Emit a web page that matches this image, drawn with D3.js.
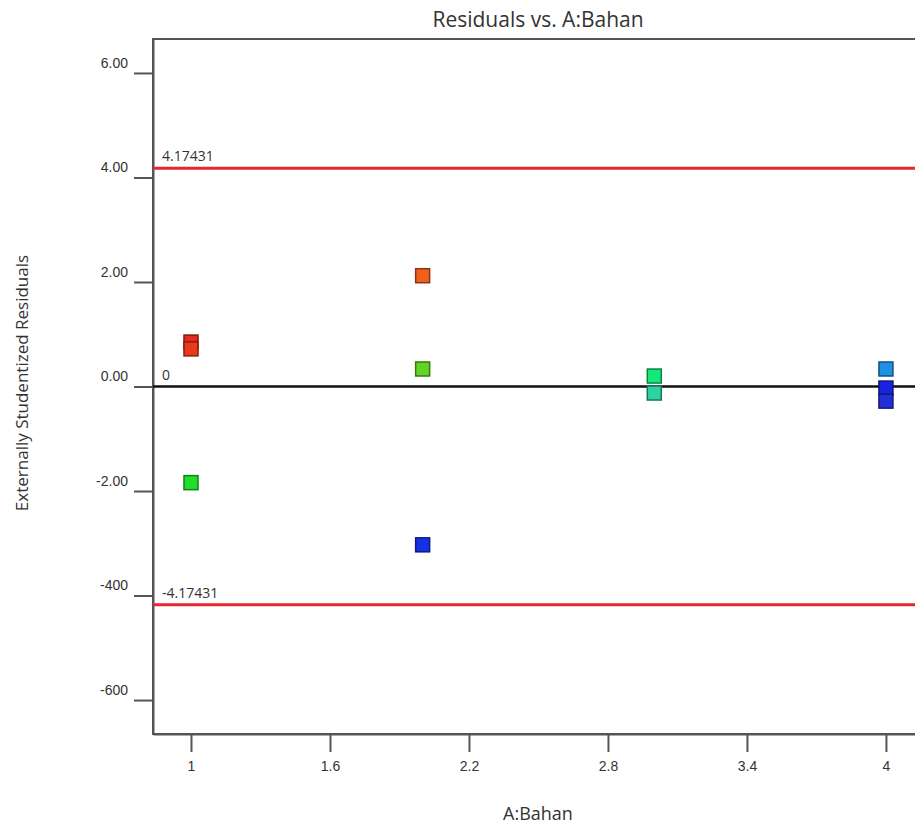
<!DOCTYPE html>
<html>
<head>
<meta charset="utf-8">
<script src="https://cdn.jsdelivr.net/npm/d3@7"></script>
<style>
  body { margin: 0; background: #fff; }
  svg { display: block; font-family: "Open Sans", "Noto Sans", sans-serif; }
  .axis path, .axis line { stroke: #555; stroke-width: 2; }
  .axis text { fill: #333; font-size: 14px; }
</style>
</head>
<body>
<svg width="915" height="827"></svg>
<script>
// data
var xValues = [1, 1, 1, 2, 2, 2, 3, 3, 4, 4, 4];
var residuals = [0.85, 0.72, -1.84, 2.12, 0.335, -3.03, 0.2, -0.125, 0.335, -0.03, -0.28];
var pointColors = ['#e52a1e', '#ea3a1a', '#22e02a', '#f0601a', '#62d426', '#1530e6',
                   '#14e878', '#2ad3a0', '#2090e4', '#1a22e0', '#2030d6'];
var xTicks = [1, 1.6, 2.2, 2.8, 3.4, 4];
var xTickLabels = ['1', '1.6', '2.2', '2.8', '3.4', '4'];
var yTicks = [6, 4, 2, 0, -2, -4, -6];
var yTickLabels = ['6.00', '4.00', '2.00', '0.00', '-2.00', '-400', '-600'];
var limitValues = [4.17431, 0, -4.17431];
var limitLabels = ['4.17431', '0', '-4.17431'];

var svg = d3.select("svg");
var plotLeft = 153, plotRight = 923, plotTop = 39, plotBottom = 734;

var x = d3.scaleLinear().domain([0.836, 4.16]).range([plotLeft, plotRight]);
var y = d3.scaleLinear().domain([-6.65, 6.65]).range([plotBottom, plotTop]);

//frame
svg.append("rect")
    .attr("x", plotLeft).attr("y", plotTop)
    .attr("width", plotRight - plotLeft).attr("height", plotBottom - plotTop)
    .attr("fill", "none").attr("stroke", "#555").attr("stroke-width", 2);

//axes
var xAxis = d3.axisBottom(x)
    .tickValues(xTicks)
    .tickFormat((d, i) => xTickLabels[i])
    .tickSize(18).tickSizeOuter(0).tickPadding(9);
svg.append("g").attr("class", "axis")
    .attr("transform", "translate(0," + plotBottom + ")")
    .call(xAxis);

var yAxis = d3.axisLeft(y)
    .tickValues(yTicks)
    .tickFormat((d, i) => yTickLabels[i])
    .tickSize(19).tickSizeOuter(0).tickPadding(6);
svg.append("g").attr("class", "axis")
    .attr("transform", "translate(" + plotLeft + ",0)")
    .call(yAxis)
    .selectAll("text").attr("dy", "-0.4em");

//limit lines and the zero line
svg.selectAll("line.limit")
    .data(limitValues)
    .join("line")
    .attr("class", "limit")
    .attr("x1", plotLeft).attr("x2", plotRight)
    .attr("y1", d => y(d)).attr("y2", d => y(d))
    .attr("stroke", d => d === 0 ? "#111" : "#e8262e")
    .attr("stroke-width", d => d === 0 ? 2.5 : 3);

svg.selectAll("text.limit-label")
    .data(limitValues)
    .join("text")
    .attr("class", "limit-label")
    .attr("x", plotLeft + 9)
    .attr("y", d => y(d) - 7)
    .attr("font-size", "14px")
    .attr("fill", "#333")
    .text((d, i) => limitLabels[i]);

//points
var size = 14;
var points = xValues.map((v, i) => ({x: v, r: residuals[i], c: pointColors[i]}));
svg.selectAll("rect.pt")
    .data(points)
    .join("rect")
    .attr("class", "pt")
    .attr("x", d => x(d.x) - size / 2)
    .attr("y", d => y(d.r) - size / 2)
    .attr("width", size).attr("height", size)
    .attr("fill", d => d.c)
    .attr("stroke", d => d3.color(d.c).darker(1.6))
    .attr("stroke-width", 1.5);

//titles
svg.append("text")
    .attr("x", 538).attr("y", 27)
    .attr("text-anchor", "middle")
    .attr("font-size", "21px").attr("fill", "#333")
    .text("Residuals vs. A:Bahan");

svg.append("text")
    .attr("x", 538).attr("y", 820)
    .attr("text-anchor", "middle")
    .attr("font-size", "18px").attr("fill", "#333")
    .text("A:Bahan");

svg.append("text")
    .attr("transform", "translate(28,383) rotate(-90)")
    .attr("text-anchor", "middle")
    .attr("font-size", "17px").attr("fill", "#333")
    .text("Externally Studentized Residuals");
</script>
</body>
</html>
